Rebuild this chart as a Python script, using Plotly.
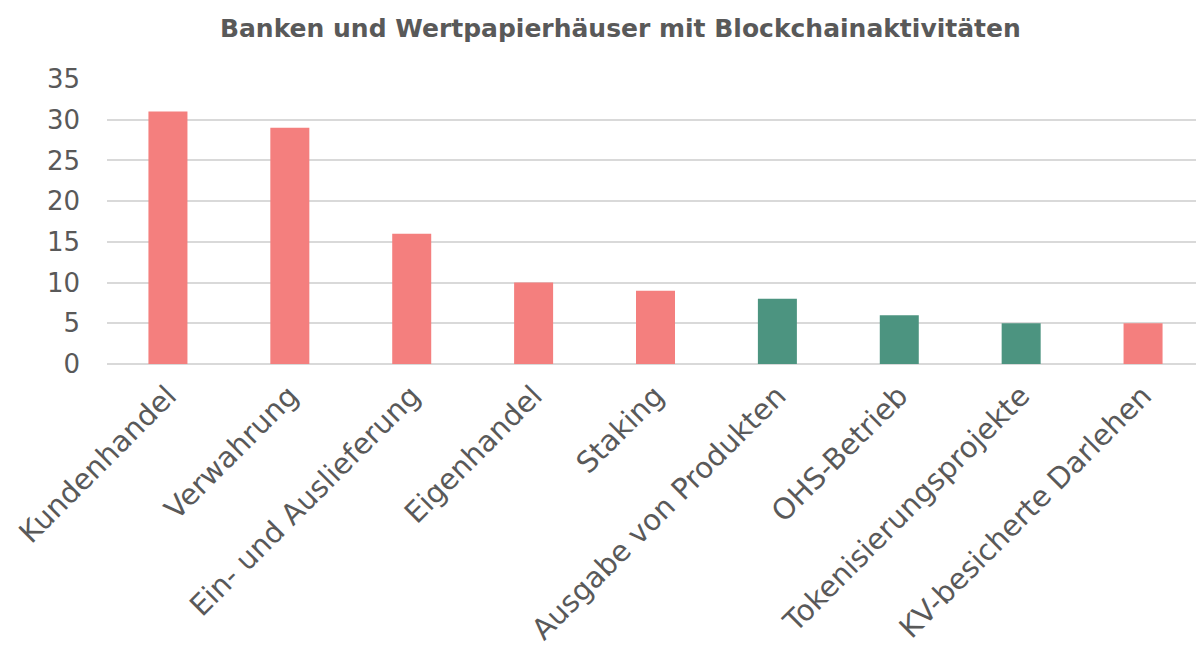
import plotly.graph_objects as go

categories = ["Kundenhandel", "Verwahrung", "Ein- und Auslieferung", "Eigenhandel", "Staking",
              "Ausgabe von Produkten", "OHS-Betrieb", "Tokenisierungsprojekte", "KV-besicherte Darlehen"]
values = [31, 29, 16, 10, 9, 8, 6, 5, 5]
groups = ["a", "a", "a", "a", "a", "b", "b", "b", "a"]
y_ticks = [0, 5, 10, 15, 20, 25, 30, 35]

color_map = {"a": "#F47F7E", "b": "#4C9480"}
colors = [color_map[g] for g in groups]

fig = go.Figure(go.Bar(x=categories, y=values, marker_color=colors, marker_line_width=0, width=0.32))

font_family = "'DejaVu Sans', sans-serif"
fig.update_layout(
    width=1196, height=638,
    margin=dict(l=99, r=0, t=71, b=280),
    paper_bgcolor="white", plot_bgcolor="white",
    title=dict(text="<b>Banken und Wertpapierhäuser mit Blockchainaktivitäten</b>",
               x=0.512, xanchor="center", y=0.968, yanchor="middle",
               font=dict(family=font_family, size=25, color="#595959")),
    showlegend=False,
    font=dict(family=font_family, color="#595959"),
)
fig.update_xaxes(tickangle=-45, tickfont=dict(size=29, color="#595959"), showgrid=False,
                 showline=False, ticks="", ticklabelstandoff=8)
fig.update_yaxes(range=[0, 35], tickvals=y_ticks, tickfont=dict(size=26, color="#595959"),
                 showgrid=True, gridcolor="#D9D9D9", gridwidth=1.5, zeroline=True,
                 zerolinecolor="#D9D9D9", zerolinewidth=1.5, ticks="", ticklabelstandoff=26)

fig.write_html("out.html")
